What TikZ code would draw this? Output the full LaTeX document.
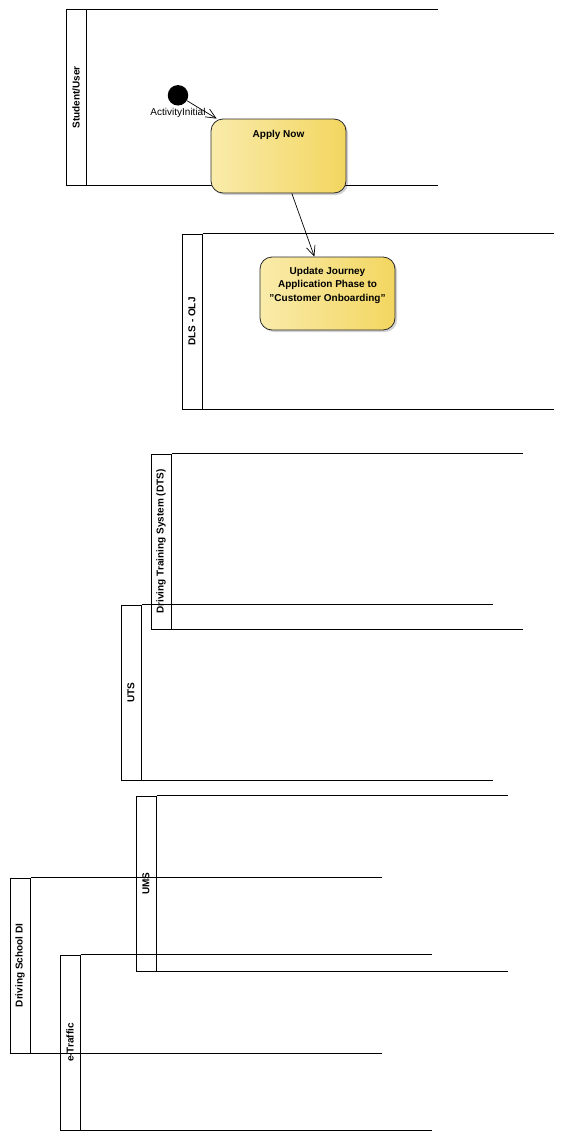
\documentclass[tikz,border=0pt]{standalone}
\usepackage{fontspec}
\setmainfont{Liberation Sans}
\usetikzlibrary{arrows.meta,shadows}
\definecolor{actleft}{HTML}{F9EBAA}
\definecolor{actright}{HTML}{F3D660}
\definecolor{actborder}{HTML}{2B2B2B}
\newcommand\drawswimlane[4]{%
  \node[lanehead] (#1) at (#2,#3) {#4};
  \draw[laneline] (#1.south east) -- ++(351,0);
  \draw[laneline] (#1.south west) -- ++(351,0);
}
\begin{document}
\begin{tikzpicture}[x=1pt,y=-1pt,
  lanehead/.style={draw=black, line width=1pt, rotate=90, minimum width=175pt,
    minimum height=20pt, inner sep=0pt, font=\fontsize{10}{12}\selectfont\bfseries},
  laneline/.style={line width=1pt, black},
  actbox/.style={draw=actborder, line width=0.8pt, rounded corners=12pt,
    left color=actleft, right color=actright,
    drop shadow={shadow xshift=2pt, shadow yshift=-2pt, fill=black, opacity=0.18},
    inner sep=0pt, font=\fontsize{10}{13.4}\selectfont\bfseries},
  flow/.style={line width=0.7pt, black, -{Straight Barb[length=10pt, width=9pt, line width=0.7pt]}},
  initnode/.style={circle, fill=black, minimum size=20.5pt, inner sep=0pt}
]
\fill[white] (0,0) rectangle (562,1140);
\useasboundingbox (0,0) rectangle (562,1140);

% swimlanes
\drawswimlane{stu}{76}{97.5}{Student/User}
\drawswimlane{dls}{192}{321.5}{DLS - OLJ}
\drawswimlane{uts}{131}{692.5}{UTS}
\drawswimlane{dts}{161}{541.5}{Driving Training System (DTS)}
\drawswimlane{ums}{146}{883.5}{UMS}
\drawswimlane{dsdi}{20}{965.5}{Driving School DI}
\drawswimlane{etr}{70}{1042.5}{e-Traffic}

% activities
\node[initnode, label={[font=\fontsize{10}{12}\selectfont, inner sep=0pt, yshift=-2.5pt]below:ActivityInitial}] (init) at (178,95.3) {};

\node[actbox, minimum width=135pt, minimum height=74pt] (apply) at (278.5,156)
  {\parbox[c][74pt][t]{130pt}{\centering\rule{0pt}{18pt}Apply Now}};

\node[actbox, minimum width=135pt, minimum height=73pt] (update) at (327.5,293.5)
  {\parbox[c][73pt][t]{130pt}{\centering\rule{0pt}{17.5pt}Update Journey\\Application Phase to\\"Customer Onboarding"}};

% flows
\draw[flow] (init) -- (apply);
\draw[flow] (apply) -- (update);
\end{tikzpicture}
\end{document}
